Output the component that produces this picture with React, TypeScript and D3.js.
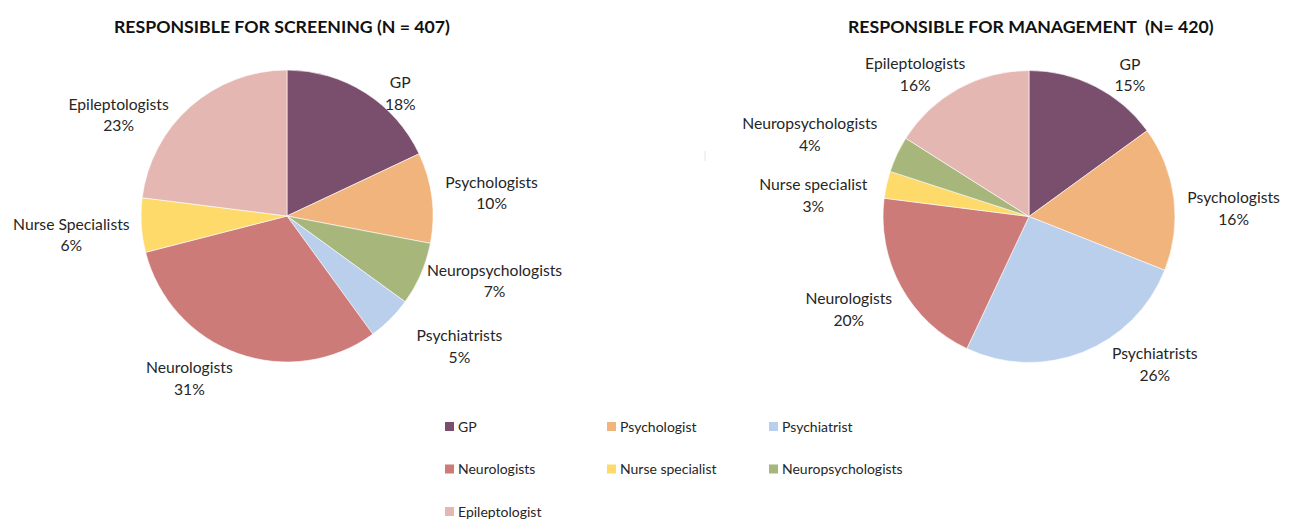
import React from "react";
import * as d3 from "d3";

// ---- data ----
const categories = ["GP", "Psychologists", "Psychiatrists", "Neurologists", "Nurse specialist", "Neuropsychologists", "Epileptologists"];
const legendLabels = ["GP", "Psychologist", "Psychiatrist", "Neurologists", "Nurse specialist", "Neuropsychologists", "Epileptologist"];
const colors = ["#7a4e6d", "#f1b47c", "#bacfec", "#cd7b79", "#fdda6a", "#a7b67b", "#e5b7b3"];

// Screening pie (clockwise from 12 o'clock)
const screeningOrder = ["GP", "Psychologists", "Neuropsychologists", "Psychiatrists", "Neurologists", "Nurse specialist", "Epileptologists"];
const screeningLabels = ["GP", "Psychologists", "Neuropsychologists", "Psychiatrists", "Neurologists", "Nurse Specialists", "Epileptologists"];
const screeningValues = [18, 10, 7, 5, 31, 6, 23];

// Management pie
const managementOrder = ["GP", "Psychologists", "Psychiatrists", "Neurologists", "Nurse specialist", "Neuropsychologists", "Epileptologists"];
const managementLabels = ["GP", "Psychologists", "Psychiatrists", "Neurologists", "Nurse specialist", "Neuropsychologists", "Epileptologists"];
const managementValues = [15, 16, 26, 20, 3, 4, 16];

const titles = ["RESPONSIBLE FOR SCREENING (N = 407)", "RESPONSIBLE FOR MANAGEMENT\u00a0\u00a0(N= 420)"];

// ---- layout (label nudges relative to outside anchor) ----
const screeningNudges: [number, number][] = [[19, 26], [30, -1], [46, -5], [48, 6], [-38, -3], [-40, 8], [-52, 31]];
const managementNudges: [number, number][] = [[21, 15], [30, 14], [61, -16], [-26, 8], [-44, 17], [-60, -7], [-29, 12]];

const FONT = "Lato, 'Open Sans', sans-serif";

function Pie({ cx, cy, r, order, labels, values, nudges, title, titleX }: any) {
  const items = order.map((c: string, i: number) => ({ cat: c, label: labels[i], value: values[i], nudge: nudges[i] }));
  const pie = d3.pie<any>().sort(null).value((d: any) => d.value);
  const arcs = pie(items);
  const arc = d3.arc<any>().innerRadius(0).outerRadius(r);
  const labelArc = d3.arc<any>().innerRadius(r + 30).outerRadius(r + 30);
  const color = d3.scaleOrdinal<string, string>().domain(categories).range(colors);
  return (
    <g>
      <text x={titleX} y={33} fontFamily={FONT} fontWeight={700} fontSize={17.7} fill="#111">{title}</text>
      <g transform={`translate(${cx},${cy})`}>
        {arcs.map((a: any, i: number) => (
          <path key={i} d={arc(a) as string} fill={color(a.data.cat)} stroke="#ffffff" strokeWidth={0.6} />
        ))}
        {arcs.map((a: any, i: number) => {
          const [x, y] = labelArc.centroid(a);
          const lx = x + a.data.nudge[0];
          const ly = y + a.data.nudge[1];
          return (
            <text key={"l" + i} x={lx} y={ly} textAnchor="middle" fontFamily={FONT} fontSize={15.7} fill="#262626">
              <tspan x={lx} y={ly - 10.75} dy="0.36em">{a.data.label}</tspan>
              <tspan x={lx} y={ly + 10.75} dy="0.36em">{`${a.data.value}%`}</tspan>
            </text>
          );
        })}
      </g>
    </g>
  );
}

export default function App() {
  const color = d3.scaleOrdinal<string, string>().domain(categories).range(colors);
  const legendX = d3.scaleLinear().domain([0, 1]).range([445, 607]);
  const legendY = d3.scaleLinear().domain([0, 1]).range([422, 464.5]);
  return (
    <svg width={1292} height={525} style={{ position: "absolute", left: 0, top: 0, background: "#fff" }}>
      <rect width={1292} height={525} fill="#fff" />
      <Pie cx={287} cy={216} r={146} order={screeningOrder} labels={screeningLabels} values={screeningValues} nudges={screeningNudges} title={titles[0]} titleX={114} />
      <Pie cx={1029} cy={216.5} r={146} order={managementOrder} labels={managementLabels} values={managementValues} nudges={managementNudges} title={titles[1]} titleX={848} />
      <line x1={705} x2={705} y1={151} y2={161} stroke="#e4e4e4" strokeWidth={1} />
      <g>
        {categories.map((c, i) => {
          const col = i % 3;
          const row = Math.floor(i / 3);
          const x = legendX(col);
          const y = legendY(row);
          return (
            <g key={c}>
              <rect x={x} y={y} width={9} height={9} fill={color(c)} />
              <text x={x + 13} y={y + 9.5} fontFamily={FONT} fontSize={14} fill="#262626">{legendLabels[i]}</text>
            </g>
          );
        })}
      </g>
    </svg>
  );
}
